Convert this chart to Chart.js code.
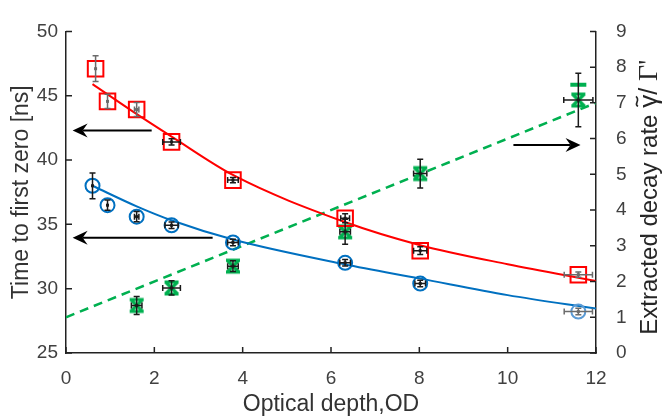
<!DOCTYPE html>
<html>
<head>
<meta charset="utf-8">
<script src="https://cdn.jsdelivr.net/npm/chart.js@4.4.1/dist/chart.umd.min.js"></script>
<style>
  html, body { margin: 0; padding: 0; background: #fff; }
</style>
</head>
<body>
<canvas id="chart" width="662" height="418"></canvas>
<script>
// measured points, left axis (time to first zero, ns)
const odRed     = [0.67, 0.94, 1.6, 2.39, 3.78, 6.32, 8.02, 11.6];
const tRed      = [47.1, 44.56, 43.93, 41.41, 38.44, 35.47, 32.95, 31.09];
const tRedXErr  = [0, 0, 0.05, 0.2, 0.12, 0.1, 0.15, 0.32];
const tRedYErr  = [1.0, 0.55, 0.55, 0.25, 0.2, 0.35, 0.3, 0.2];

const odBlue    = [0.6, 0.94, 1.6, 2.39, 3.78, 6.32, 8.02, 11.6];
const tBlue     = [38.0, 36.49, 35.6, 34.93, 33.59, 32.01, 30.4, 28.22];
const tBlueXErr = [0, 0, 0.05, 0.15, 0.12, 0.12, 0.12, 0.32];
const tBlueYErr = [1.0, 0.4, 0.4, 0.25, 0.25, 0.25, 0.25, 0.25];

// right axis (extracted decay rate)
const odGreen     = [1.6, 2.39, 3.78, 6.32, 8.02, 11.6];
const rateGreen   = [1.33, 1.82, 2.43, 3.39, 5.02, 7.08];
const rateXErr    = [0.12, 0.2, 0.12, 0.12, 0.15, 0.33];
const rateYErr    = [0.25, 0.2, 0.15, 0.35, 0.4, 0.75];
const odGreenBar  = [11.6];
const rateGreenBar = [7.51];

// fitted curves
const fitRedOd    = [0.6, 1.5, 2.4, 3.8, 6.3, 8, 10, 12];
const fitRedT     = [45.9, 43.8, 41.8, 38.8, 35.2, 33.4, 31.9, 30.6];
const fitBlueOd   = [0.6, 1.6, 2.4, 3.8, 6.3, 8, 10, 12];
const fitBlueT    = [38.0, 36.4, 35.3, 33.8, 31.9, 30.8, 29.5, 28.45];
const fitGreenOd  = [0, 12];
const fitGreenRate = [1.0, 7.0];

// axis ranges / ticks
const xRange = [0, 12, 2];
const yLeftRange = [25, 50, 5];
const yRightRange = [0, 9, 1];

// annotation arrows: [x0, x1, y, axis]
const arrows = [
  [1.94, 0.15, 42.3, 'y'],
  [3.32, 0.15, 33.96, 'y'],
  [10.13, 11.65, 5.82, 'y1']
];

const RED = '#ff0000', BLUE = '#0070c0', GREEN = '#00b050';
const SANS = '"Liberation Sans", Arial, sans-serif';

const pts = (xs, ys) => xs.map((v, i) => ({ x: v, y: ys[i] }));

function hourglass(color) {
  const c = document.createElement('canvas');
  c.width = 20; c.height = 20;
  const g = c.getContext('2d');
  g.strokeStyle = color; g.lineWidth = 3.2;
  g.beginPath();
  g.moveTo(4, 4); g.lineTo(16, 16);
  g.moveTo(16, 4); g.lineTo(4, 16);
  g.moveTo(3, 4); g.lineTo(17, 4);
  g.moveTo(3, 16); g.lineTo(17, 16);
  g.stroke();
  return c;
}

const errSets = [
  { xs: odRed, ys: tRed, ex: tRedXErr, ey: tRedYErr, axis: 'y', gray: [0, 1, 2, 7] },
  { xs: odBlue, ys: tBlue, ex: tBlueXErr, ey: tBlueYErr, axis: 'y', gray: [7] },
  { xs: odGreen, ys: rateGreen, ex: rateXErr, ey: rateYErr, axis: 'y1', gray: [] }
];

const extras = {
  id: 'extras',
  afterDatasetsDraw(chart) {
    const ctx = chart.ctx, x = chart.scales.x;
    ctx.save();
    ctx.lineWidth = 1.5;
    errSets.forEach(s => {
      const sc = chart.scales[s.axis];
      s.xs.forEach((v, i) => {
        ctx.strokeStyle = s.gray.includes(i) ? '#6b6b6b' : '#1a1a1a';
        const px = x.getPixelForValue(v), py = sc.getPixelForValue(s.ys[i]);
        ctx.beginPath();
        if (s.ey[i]) {
          const t = sc.getPixelForValue(s.ys[i] + s.ey[i]);
          const b = sc.getPixelForValue(s.ys[i] - s.ey[i]);
          ctx.moveTo(px, t); ctx.lineTo(px, b);
          ctx.moveTo(px - 3, t); ctx.lineTo(px + 3, t);
          ctx.moveTo(px - 3, b); ctx.lineTo(px + 3, b);
        }
        if (s.ex[i]) {
          const l = x.getPixelForValue(v - s.ex[i]);
          const r = x.getPixelForValue(v + s.ex[i]);
          ctx.moveTo(l, py); ctx.lineTo(r, py);
          ctx.moveTo(l, py - 3); ctx.lineTo(l, py + 3);
          ctx.moveTo(r, py - 3); ctx.lineTo(r, py + 3);
        }
        ctx.stroke();
        ctx.fillStyle = ctx.strokeStyle;
        ctx.fillRect(px - 1.5, py - 1.5, 3, 3);
      });
    });
    ctx.restore();
  },
  afterDraw(chart) {
    const ctx = chart.ctx, a = chart.chartArea;
    const { x, y, y1 } = chart.scales;
    ctx.save();
    // inward ticks
    ctx.strokeStyle = '#222'; ctx.lineWidth = 1.5;
    ctx.beginPath();
    y.ticks.forEach(t => { const p = y.getPixelForValue(t.value); ctx.moveTo(a.left, p); ctx.lineTo(a.left + 6, p); });
    y1.ticks.forEach(t => { const p = y1.getPixelForValue(t.value); ctx.moveTo(a.right, p); ctx.lineTo(a.right - 6, p); });
    x.ticks.forEach(t => { const p = x.getPixelForValue(t.value); ctx.moveTo(p, a.bottom); ctx.lineTo(p, a.bottom - 6); });
    ctx.stroke();

    // arrows
    ctx.strokeStyle = '#000'; ctx.fillStyle = '#000'; ctx.lineWidth = 2;
    arrows.forEach(([x0, x1, v, ax]) => {
      const p0 = x.getPixelForValue(x0), p1 = x.getPixelForValue(x1);
      const py = chart.scales[ax].getPixelForValue(v);
      const dir = Math.sign(p1 - p0);
      ctx.beginPath(); ctx.moveTo(p0, py); ctx.lineTo(p1 - dir * 10, py); ctx.stroke();
      ctx.beginPath();
      ctx.moveTo(p1, py);
      ctx.lineTo(p1 - dir * 15, py - 7);
      ctx.lineTo(p1 - dir * 10, py);
      ctx.lineTo(p1 - dir * 15, py + 7);
      ctx.closePath(); ctx.fill();
    });

    // right axis title, reading bottom to top
    const parts = [
      ['Extracted decay rate ', '24px ' + SANS],
      ['\u03b3', '26px ' + SANS],
      ['/ ', '25px ' + SANS],
      ['\u0393\'', '28px "Liberation Serif", serif']
    ];
    ctx.translate(657, (a.top + a.bottom) / 2 + 5);
    ctx.rotate(-Math.PI / 2);
    ctx.fillStyle = '#262626';
    ctx.strokeStyle = '#262626';
    ctx.textBaseline = 'alphabetic';
    ctx.textAlign = 'left';
    let total = 0;
    parts.forEach(([t, f]) => { ctx.font = f; total += ctx.measureText(t).width; });
    let cx = -total / 2;
    parts.forEach(([t, f], k) => {
      ctx.font = f;
      const w = ctx.measureText(t).width;
      ctx.fillText(t, cx, 0);
      if (k === 1) {
        // tilde over gamma
        const m = cx + w / 2;
        ctx.lineWidth = 1.6;
        ctx.beginPath();
        ctx.moveTo(m - 5, -19);
        ctx.bezierCurveTo(m - 2.5, -24, m + 0.5, -16, m + 5, -21);
        ctx.stroke();
      }
      cx += w;
    });
    ctx.restore();
  }
};

const tickFont = { family: SANS, size: 19 };
const titleFont = { family: SANS, size: 23 };

new Chart(document.getElementById('chart'), {
  type: 'scatter',
  data: {
    datasets: [
      { data: pts(odRed, tRed), yAxisID: 'y', pointStyle: 'rect', pointRadius: 11,
        borderColor: RED, backgroundColor: 'transparent', borderWidth: 2 },
      { data: pts(odBlue, tBlue), yAxisID: 'y', pointStyle: 'circle', pointRadius: 7,
        borderColor: ctx => ctx.dataIndex === 7 ? '#5b9bd5' : BLUE,
        backgroundColor: 'transparent', borderWidth: 2 },
      { data: pts(odGreen, rateGreen), yAxisID: 'y1', pointStyle: hourglass(GREEN), pointRadius: 9 },
      { data: pts(odGreenBar, rateGreenBar), yAxisID: 'y1', pointStyle: 'line', pointRadius: 8,
        borderColor: GREEN, borderWidth: 4 },
      { data: pts(fitRedOd, fitRedT), yAxisID: 'y', showLine: true, pointRadius: 0,
        borderColor: RED, borderWidth: 2, cubicInterpolationMode: 'monotone' },
      { data: pts(fitBlueOd, fitBlueT), yAxisID: 'y', showLine: true, pointRadius: 0,
        borderColor: BLUE, borderWidth: 2, cubicInterpolationMode: 'monotone' },
      { data: pts(fitGreenOd, fitGreenRate), yAxisID: 'y1', showLine: true, pointRadius: 0,
        borderColor: GREEN, borderWidth: 2.5, borderDash: [9, 6] }
    ]
  },
  options: {
    responsive: false,
    animation: false,
    events: [],
    layout: { padding: { top: 16, left: 0, right: 0, bottom: 0 } },
    plugins: { legend: { display: false }, tooltip: { enabled: false } },
    scales: {
      x: {
        type: 'linear', min: xRange[0], max: xRange[1],
        grid: { display: false, drawTicks: false },
        border: { display: true, color: '#222', width: 1.5 },
        ticks: { stepSize: xRange[2], font: tickFont, color: '#404040', padding: 14 },
        title: { display: true, text: 'Optical depth,OD', font: titleFont, color: '#333',
          padding: { top: 0, bottom: 0 } },
        afterFit: s => { s.height = 65; }
      },
      y: {
        type: 'linear', position: 'left', min: yLeftRange[0], max: yLeftRange[1],
        grid: { display: false, drawTicks: false },
        border: { display: true, color: '#222', width: 1.5 },
        ticks: { stepSize: yLeftRange[2], font: tickFont, color: '#404040', padding: 8 },
        title: { display: true, text: 'Time to first zero [ns]', font: titleFont, color: '#333',
          padding: { top: 8, bottom: 0 } },
        afterFit: s => { s.width = 66; }
      },
      y1: {
        type: 'linear', position: 'right', min: yRightRange[0], max: yRightRange[1],
        grid: { display: false, drawTicks: false },
        border: { display: true, color: '#222', width: 1.5 },
        ticks: { stepSize: yRightRange[2], font: tickFont, color: '#404040', padding: 20 },
        afterFit: s => { s.width = 66; }
      }
    }
  },
  plugins: [extras]
});
</script>
</body>
</html>
